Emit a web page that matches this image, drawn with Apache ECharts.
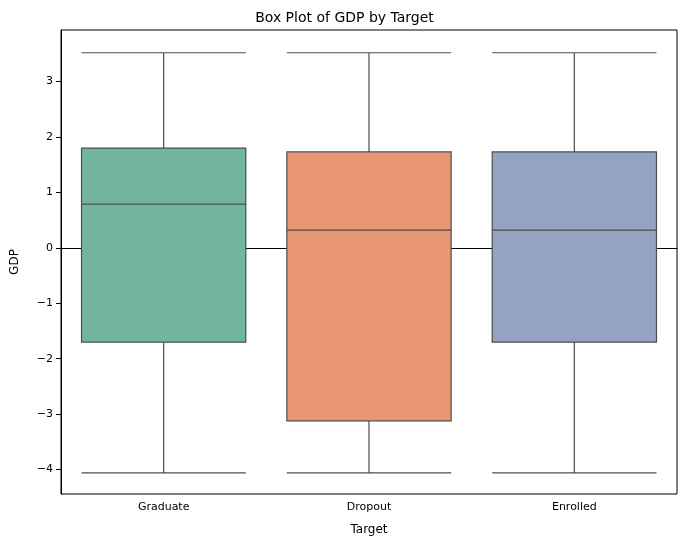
<!DOCTYPE html>
<html><head><meta charset="utf-8">
<script src="https://cdn.jsdelivr.net/npm/echarts@6/dist/echarts.min.js"></script>
<style>html,body{margin:0;background:#fff}#c{width:689px;height:547px}</style>
</head><body><div id="c"></div>
<script>
const categories = ["Graduate", "Dropout", "Enrolled"];
// [min, Q1, median, Q3, max]
const boxes = [
  [-4.06, -1.70, 0.79, 1.80, 3.52],
  [-4.06, -3.12, 0.32, 1.73, 3.52],
  [-4.06, -1.70, 0.32, 1.73, 3.52]
];
const colors = ["#72b6a1", "#e99675", "#95a3c3"];
const yTicks = [-4, -3, -2, -1, 0, 1, 2, 3];

const font = "DejaVu Sans";
const chart = echarts.init(document.getElementById("c"));
chart.setOption({
  animation: false,
  title: { text: "Box Plot of GDP by Target", left: "center", top: 6,
    textStyle: { fontFamily: font, fontSize: 14, fontWeight: "normal", color: "#000" } },
  grid: { left: 61, right: 12, top: 30, bottom: 53 },
  xAxis: {
    type: "category", data: categories, name: "Target", nameLocation: "middle", nameGap: 30,
    nameTextStyle: { fontFamily: font, fontSize: 12, color: "#000" },
    axisLine: { lineStyle: { color: "#000" } },
    axisTick: { alignWithLabel: true, lineStyle: { color: "#000" } },
    axisLabel: { fontFamily: font, fontSize: 11, color: "#000" }
  },
  yAxis: {
    type: "value", min: -4.44, max: 3.93, name: "GDP", nameLocation: "middle", nameGap: 40,
    nameTextStyle: { fontFamily: font, fontSize: 12, color: "#000" },
    splitLine: { show: false },
    axisLine: { show: true, lineStyle: { color: "#000" } },
    axisTick: { show: true, customValues: yTicks, lineStyle: { color: "#000" } },
    axisLabel: { customValues: yTicks, fontFamily: font, fontSize: 11, color: "#000",
      formatter: v => (v < 0 ? "\u2212" + (-v) : String(v)) }
  },
  series: [{
    type: "boxplot", boxWidth: ["80%", "80%"],
    data: boxes.map((b, i) => ({ value: b,
      itemStyle: { color: colors[i], borderColor: "#4d4d4d", borderWidth: 1.2 } }))
  }]
});
// frame on top/right
chart.setOption({ graphic: [{ type: "rect", shape: { x: 61, y: 30, width: 616, height: 464 },
  style: { fill: "none", stroke: "#000", lineWidth: 1 }, silent: true }] });
</script></body></html>
